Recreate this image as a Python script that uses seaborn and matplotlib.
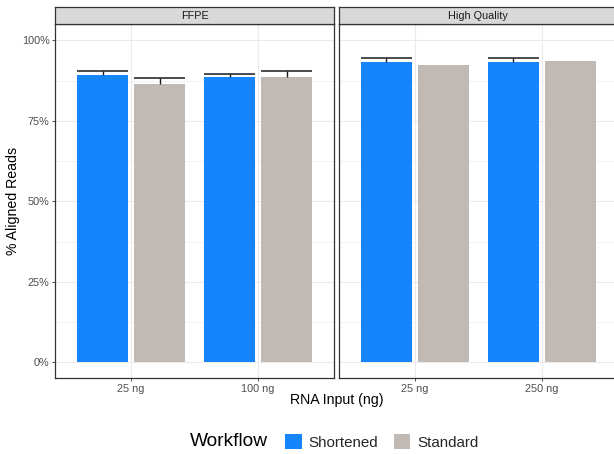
import numpy as np
import pandas as pd
import matplotlib
matplotlib.use('Agg')
import matplotlib.pyplot as plt
import seaborn as sns
from matplotlib.patches import Patch

# ---- data ----
panels = ['FFPE', 'High Quality']
ffpe_inputs = ['25 ng', '100 ng']
hq_inputs = ['25 ng', '250 ng']
workflows = ['Shortened', 'Standard']
ffpe_shortened = [89.4, 88.5]
ffpe_standard = [86.3, 88.5]
hq_shortened = [93.4, 93.4]
hq_standard = [92.5, 93.5]
ffpe_shortened_err = [1.0, 1.0]
ffpe_standard_err = [2.1, 1.9]
hq_shortened_err = [1.1, 1.1]
hq_standard_err = [np.nan, np.nan]
y_ticks = [0, 25, 50, 75, 100]
y_tick_labels = ['0%', '25%', '50%', '75%', '100%']

colors = {'Shortened': '#1684FA', 'Standard': '#C1B9B4'}

sns.set_theme(style='white')
plt.rcParams['font.family'] = ['Liberation Sans', 'DejaVu Sans']

W, H = 614, 454
fig = plt.figure(figsize=(W / 100, H / 100), dpi=100)


def px_axes(x0, y0, x1, y1):
    return fig.add_axes([x0 / W, 1 - y1 / H, (x1 - x0) / W, (y1 - y0) / H])


panel_specs = [
    (panels[0], ffpe_inputs, ffpe_shortened, ffpe_standard, ffpe_shortened_err, ffpe_standard_err, 55.0),
    (panels[1], hq_inputs, hq_shortened, hq_standard, hq_shortened_err, hq_standard_err, 338.7),
]
pw = 279.3
top, bottom = 24.3, 378.3
strip_top = 7.3
border_col = '#333333'
grid_col = '#EBEBEB'
tick_col = '#4D4D4D'

for i, (name, inputs, short, std, short_e, std_e, x0) in enumerate(panel_specs):
    x1 = x0 + pw if i == 0 else x0 + pw + 3
    ax = px_axes(x0, top, x1, bottom)
    df = pd.DataFrame({
        'input': inputs * 2,
        'workflow': [workflows[0]] * len(inputs) + [workflows[1]] * len(inputs),
        'value': short + std,
    })
    sns.barplot(data=df, x='input', y='value', hue='workflow', order=inputs,
                hue_order=workflows, palette=colors, width=0.9, gap=0.11,
                errorbar=None, legend=False, ax=ax, saturation=1, zorder=2,
                linewidth=0, edgecolor='none')
    for cont, errs in zip(ax.containers, [short_e, std_e]):
        for bar, e in zip(cont, errs):
            if np.isnan(e):
                continue
            bx, bw, bh = bar.get_x(), bar.get_width(), bar.get_height()
            ax.vlines(bx + bw / 2, bh, bh + e, color='#1a1a1a', lw=1.0, zorder=3)
            ax.hlines(bh + e, bx, bx + bw, color='#1a1a1a', lw=1.1, zorder=3)
    if i == 0:
        ax.set_xlim(-0.6, len(inputs) - 0.4)
    else:
        ax.set_xlim(-0.6, -0.6 + 2.2 * (x1 - x0) / pw)
    ax.set_ylim(-5, 105)
    ax.set_yticks(y_ticks)
    ax.set_yticks([12.5, 37.5, 62.5, 87.5], minor=True)
    ax.grid(True, which='major', color=grid_col, lw=0.8, zorder=0)
    ax.grid(True, which='minor', axis='y', color=grid_col, lw=0.45, zorder=0)
    ax.set_axisbelow(True)
    ax.set_xlabel('')
    ax.set_ylabel('')
    for s in ax.spines.values():
        s.set_visible(True)
        s.set_color(border_col)
        s.set_linewidth(0.9)
    if i == 1:
        ax.spines['right'].set_visible(False)
    ax.tick_params(axis='both', which='major', length=2.5, width=0.6, color=border_col,
                   labelsize=7.8, labelcolor=tick_col, pad=1.5, bottom=True, left=(i == 0))
    ax.tick_params(axis='both', which='minor', length=0)
    if i == 0:
        ax.set_yticklabels(y_tick_labels)
    else:
        ax.set_yticklabels([])
    # strip
    sax = px_axes(x0, strip_top, x1, top)
    sax.set_xticks([])
    sax.set_yticks([])
    sax.set_facecolor('#D9D9D9')
    for s in sax.spines.values():
        s.set_visible(True)
        s.set_color(border_col)
        s.set_linewidth(0.9)
    if i == 1:
        sax.spines['right'].set_visible(False)
    sax.text((x0 + pw / 2 - x0) / (x1 - x0), 0.5, name, ha='center', va='center', fontsize=7.8,
             color='#1A1A1A', transform=sax.transAxes)

fig.text(336.5 / W, 1 - 400 / H, 'RNA Input (ng)', ha='center', va='center', fontsize=10.2, color='black')
fig.text(13.5 / W, 1 - 201 / H, '% Aligned Reads', ha='center', va='center', rotation=90,
         fontsize=10.2, color='black')

fig.text(190 / W, 1 - 442 / H, 'Workflow', ha='left', va='center', fontsize=13.8, color='black')
handles = [Patch(facecolor=colors[w], edgecolor='none') for w in workflows]
fig.legend(handles, workflows, loc='center left', bbox_to_anchor=(285 / W, 1 - 442 / H),
           ncol=2, frameon=False, fontsize=10.9, handlelength=1.12, handleheight=1.12,
           handletextpad=0.45, columnspacing=1.0, borderpad=0, borderaxespad=0)

fig.savefig('out.png', dpi=100)
